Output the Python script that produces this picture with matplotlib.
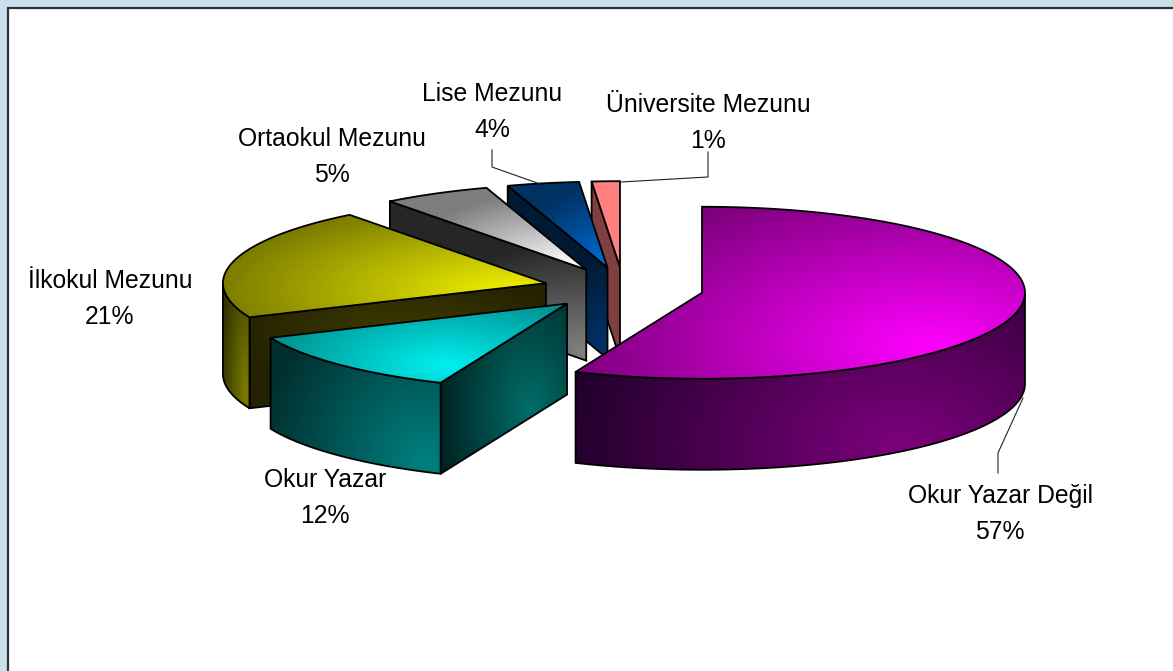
import numpy as np
import matplotlib
matplotlib.use("Agg")
import matplotlib.pyplot as plt
from matplotlib.patches import Polygon, Rectangle

# ---- data ----
categories = ["Okur Yazar Değil", "Okur Yazar", "İlkokul Mezunu",
              "Ortaokul Mezunu", "Lise Mezunu", "Üniversite Mezunu"]
values = [56.4, 12.1, 21.1, 5.4, 3.6, 1.4]
percent_labels = ["57%", "12%", "21%", "5%", "4%", "1%"]

# ---- layout ----
W, H = 1173, 671
CX, CY = 623.5, 288.5
RX, RY = 323.0, 86.0
DEPTH = 91.0
EXPLODE = 0.248
label_pos = [(1000, 514), (325, 498), (110, 299), (332, 157), (492, 112), (708, 123)]
leaders = [
    [(998, 473), (998, 453), (1023, 398)],
    None, None, None,
    [(492, 150), (492, 167), (540, 184)],
    [(708, 152), (708, 177), (621, 182)],
]
# shading: focus, radii, bright, dark
top_shade = [
    ((930, 345), (370, 175), (255, 0, 255), (120, 0, 120)),
    ((445, 365), (210, 85), (0, 240, 240), (0, 128, 128)),
    ((510, 290), (300, 90), (240, 240, 0), (120, 120, 0)),
    ((570, 265), (170, 75), (255, 255, 255), (125, 125, 125)),
    ((603, 262), (85, 75), (0, 105, 210), (0, 50, 100)),
    ((610, 230), (60, 60), (255, 128, 128), (255, 128, 128)),
]
wall_shade = [
    ((900, 445), (340, 230), (125, 0, 125), (32, 0, 42)),
    ((425, 462), (170, 190), (0, 128, 128), (0, 45, 45)),
    ((246, 395), (28, 190), (125, 125, 0), (40, 40, 0)),
    None, None, None,
]
face_shade = [
    None,
    ((530, 410), (95, 170), (0, 110, 105), (0, 32, 32)),
    ((400, 330), (170, 60), (62, 58, 0), (36, 34, 0)),
    ((586, 352), (190, 110), (130, 130, 130), (38, 38, 38)),
    ((604, 348), (60, 90), (0, 52, 104), (0, 26, 52)),
    ((610, 300), (50, 60), (128, 64, 64), (128, 64, 64)),
]

fig = plt.figure(figsize=(W / 100, H / 100), dpi=100, facecolor="#CBDFEA")
ax = fig.add_axes([0, 0, 1, 1])
ax.set_axis_off()
ax.add_patch(Rectangle((7.5, 7.5), W + 10, H + 10, fc="white", ec="#2b3338", lw=1.6, zorder=0))

yy, xx = np.mgrid[0:H, 0:W]
z = [1]


def shaded(points, shade):
    focus, radii, bright, dark = shade
    t = np.hypot((xx + .5 - focus[0]) / radii[0], (yy + .5 - focus[1]) / radii[1]).clip(0, 1)
    img = np.zeros((H, W, 3))
    for c in range(3):
        img[..., c] = (bright[c] + (dark[c] - bright[c]) * t) / 255
    z[0] += 1
    im = ax.imshow(img, extent=(0, W, H, 0), zorder=z[0], interpolation="bilinear", aspect="auto")
    poly = Polygon(points, closed=True, fc="none", ec="black", lw=1.3, joinstyle="miter", zorder=z[0] + .5)
    ax.add_patch(poly)
    im.set_clip_path(poly)


def rim(c, a):
    return np.column_stack([c[0] + RX * np.cos(a), c[1] - RY * np.sin(a)])


def depth(pts):
    return pts + np.array([0, DEPTH])


# Slices run clockwise from the top of the ellipse
fractions = np.array(values) / np.sum(values)
edges = np.pi / 2 - 2 * np.pi * np.concatenate([[0], np.cumsum(fractions)])

for i in [5, 4, 3, 2, 1, 0]:
    a1, a2 = edges[i], edges[i + 1]
    mid = (a1 + a2) / 2
    c = (CX + EXPLODE * RX * np.cos(mid), CY - EXPLODE * RY * np.sin(mid))
    arc = np.linspace(a1, a2, 200)
    outer = rim(c, arc)
    apex = np.array([c])
    # visible straight cut faces
    for a, vis in ((a1, np.cos(a1) < -1e-6), (a2, np.cos(a2) > 1e-6)):
        if vis and face_shade[i] is not None:
            edge = np.vstack([apex, rim(c, np.array([a]))])
            shaded(np.vstack([edge, depth(edge)[::-1]]), face_shade[i])
    # visible round wall
    low = arc[np.sin(arc) <= 0]
    if len(low) > 1 and wall_shade[i] is not None:
        front = rim(c, low)
        shaded(np.vstack([front, depth(front)[::-1]]), wall_shade[i])
    shaded(np.vstack([apex, outer]), top_shade[i])

ax.set_xlim(0, W)
ax.set_ylim(H, 0)

for i, name in enumerate(categories):
    ax.text(*label_pos[i], f"{name}\n{percent_labels[i]}", ha="center", va="center",
            family="Liberation Sans", fontsize=17.8, linespacing=1.6, color="black", zorder=200)
    if leaders[i]:
        p = np.array(leaders[i])
        ax.plot(p[:, 0], p[:, 1], color="#222222", lw=0.8, zorder=150)

fig.savefig("out.png", dpi=100, facecolor=fig.get_facecolor())
